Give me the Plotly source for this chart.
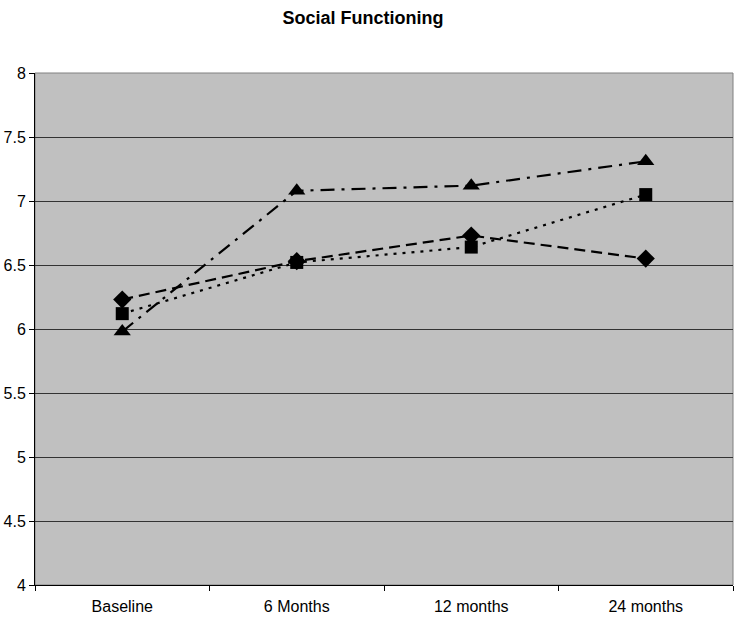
import plotly.graph_objects as go

categories = ["Baseline", "6 Months", "12 months", "24 months"]
series_diamond = [6.23, 6.53, 6.73, 6.55]
series_square = [6.12, 6.52, 6.64, 7.05]
series_triangle = [5.98, 7.08, 7.12, 7.31]
y_ticks = [4, 4.5, 5, 5.5, 6, 6.5, 7, 7.5, 8]

W, H = 737, 618

fig = go.Figure()
fig.add_trace(go.Scatter(x=categories, y=series_diamond, mode="lines+markers",
                         line=dict(color="black", width=2.2, dash="11px,6px"),
                         marker=dict(symbol="diamond", size=14, color="black"),
                         name="A"))
fig.add_trace(go.Scatter(x=categories, y=series_square, mode="lines+markers",
                         line=dict(color="black", width=2.2, dash="3px,6px"),
                         marker=dict(symbol="square", size=13, color="black"),
                         name="B"))
fig.add_trace(go.Scatter(x=categories, y=series_triangle, mode="lines+markers",
                         line=dict(color="black", width=2.2, dash="14px,7px,3px,7px"),
                         marker=dict(symbol="triangle-up", size=15, color="black"),
                         name="C"))

fig.update_layout(
    width=W, height=H,
    margin=dict(l=35, r=4, t=73, b=33),
    paper_bgcolor="white",
    plot_bgcolor="#C0C0C0",
    showlegend=False,
    font=dict(family="Liberation Sans, Arial, sans-serif", size=16, color="black"),
    title=dict(text="<b>Social Functioning</b>", x=363 / W, xanchor="center",
               y=1 - 18 / H, yanchor="middle", font=dict(size=18)),
    xaxis=dict(type="category", range=[-0.5, 3.5], showgrid=False, automargin=False,
               ticks="outside", tickson="boundaries", ticklen=5, tickcolor="black",
               ticklabelstandoff=7,
               showline=True, linecolor="black", linewidth=1, mirror=False,
               zeroline=False, fixedrange=True),
    yaxis=dict(range=[4, 8], tickvals=y_ticks, ticktext=[f"{v:g}" for v in y_ticks],
               showgrid=True, gridcolor="#333333", gridwidth=1, automargin=False,
               ticks="outside", ticklen=5, tickcolor="black",
               showline=True, linecolor="black", linewidth=1,
               zeroline=False, fixedrange=True),
)
fig.add_shape(type="rect", xref="paper", yref="paper", x0=0, x1=1, y0=0, y1=1,
              line=dict(color="#808080", width=1), layer="below")

fig.write_html("out.html",
               config={"displayModeBar": False, "staticPlot": True},
               post_script="document.body.style.margin='0';document.body.style.overflow='hidden';")
